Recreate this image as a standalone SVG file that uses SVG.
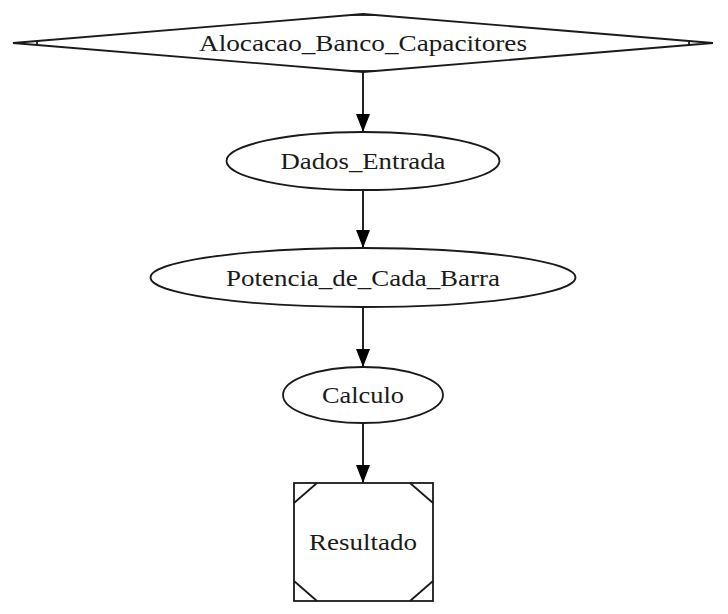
<svg xmlns="http://www.w3.org/2000/svg" width="728" height="614" viewBox="0 0 728 614">
  <defs>
    <style>
      .shape { fill: none; stroke: #1a1a1a; stroke-width: 1.8; }
      .edge { fill: none; stroke: #1a1a1a; stroke-width: 1.9; }
      .label { font-family: "Liberation Serif", "Times New Roman", serif; font-size: 24px; fill: #1a1a1a; text-anchor: middle; }
    </style>
    <marker id="arrow" viewBox="0 0 18 14" refX="18" refY="7" markerWidth="18" markerHeight="14" markerUnits="userSpaceOnUse" orient="auto">
      <path d="M0,0 L18,7 L0,14 Z" fill="#000"/>
    </marker>
  </defs>
  <rect width="728" height="614" fill="#fff"/>

  <g id="connectors">
    <line class="edge" x1="363" y1="72" x2="363" y2="132" marker-end="url(#arrow)"/>
    <line class="edge" x1="363" y1="190" x2="363" y2="248" marker-end="url(#arrow)"/>
    <line class="edge" x1="363" y1="307" x2="363" y2="367" marker-end="url(#arrow)"/>
    <line class="edge" x1="363" y1="423" x2="363" y2="483" marker-end="url(#arrow)"/>
  </g>

  <g id="Alocacao_Banco_Capacitores">
    <polygon class="shape" points="13,43 363,14 713,43 363,72"/>
    <!-- Mdiamond corner ticks -->
    <line class="shape" x1="37" y1="41" x2="37" y2="45"/>
    <line class="shape" x1="689" y1="41" x2="689" y2="45"/>
    <line class="shape" x1="351" y1="15" x2="375" y2="15"/>
    <line class="shape" x1="351" y1="71" x2="375" y2="71"/>
    <text class="label" x="363" y="51" textLength="328" lengthAdjust="spacingAndGlyphs">Alocacao_Banco_Capacitores</text>
  </g>

  <g id="Dados_Entrada">
    <ellipse class="shape" cx="363" cy="161" rx="136.5" ry="29"/>
    <text class="label" x="363" y="169" textLength="165" lengthAdjust="spacingAndGlyphs">Dados_Entrada</text>
  </g>

  <g id="Potencia_de_Cada_Barra">
    <ellipse class="shape" cx="363" cy="277.5" rx="212.5" ry="29.5"/>
    <text class="label" x="363" y="286" textLength="274" lengthAdjust="spacingAndGlyphs">Potencia_de_Cada_Barra</text>
  </g>

  <g id="Calculo">
    <ellipse class="shape" cx="363" cy="395" rx="80" ry="28"/>
    <text class="label" x="363" y="403" textLength="82" lengthAdjust="spacingAndGlyphs">Calculo</text>
  </g>

  <g id="Resultado">
    <rect class="shape" x="294" y="483" width="139" height="118"/>
    <!-- Msquare corner diagonals -->
    <line class="shape" x1="294" y1="503" x2="317" y2="483"/>
    <line class="shape" x1="410" y1="483" x2="433" y2="503"/>
    <line class="shape" x1="294" y1="581" x2="317" y2="601"/>
    <line class="shape" x1="410" y1="601" x2="433" y2="581"/>
    <text class="label" x="363" y="550" textLength="108" lengthAdjust="spacingAndGlyphs">Resultado</text>
  </g>
</svg>
